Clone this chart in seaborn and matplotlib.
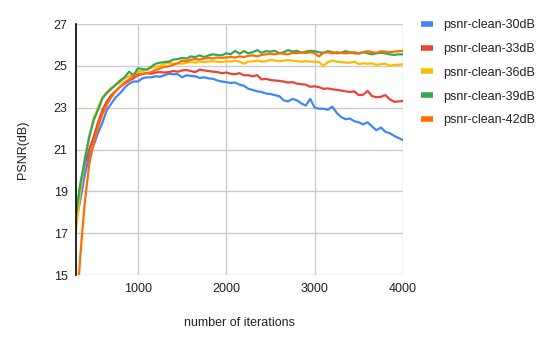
import numpy as np
import pandas as pd
import matplotlib
matplotlib.use("Agg")
import matplotlib.pyplot as plt
import seaborn as sns

sns.set_theme(style="white")
plt.rcParams["font.family"] = ["Liberation Sans", "DejaVu Sans"]

# x axis: iterations, every 50 steps
iterations = np.arange(300, 4001, 50)

psnr_30 = [17.6, 18.6, 19.8, 20.7, 21.2, 21.8, 22.3, 22.9, 23.2, 23.5,
           23.7, 23.95, 24.15, 24.25, 24.25, 24.4, 24.45, 24.45, 24.5, 24.48,
           24.55, 24.62, 24.6, 24.6, 24.45, 24.55, 24.52, 24.5, 24.42, 24.45,
           24.4, 24.38, 24.3, 24.25, 24.22, 24.18, 24.2, 24.1, 24.05, 23.9,
           23.85, 23.78, 23.75, 23.68, 23.65, 23.6, 23.55, 23.35, 23.3, 23.42,
           23.35, 23.2, 23.1, 23.42, 23.0, 22.95, 22.95, 22.9, 23.05, 22.75,
           22.55, 22.45, 22.48, 22.35, 22.3, 22.2, 22.3, 22.1, 21.92, 22.05,
           21.85, 21.78, 21.65, 21.55, 21.45]

psnr_33 = [17.9, 19.3, 20.3, 21.0, 21.6, 22.3, 22.9, 23.3, 23.6, 23.8,
           24.0, 24.15, 24.3, 24.4, 24.55, 24.6, 24.65, 24.62, 24.68, 24.7,
           24.68, 24.7, 24.75, 24.72, 24.78, 24.8, 24.75, 24.7, 24.82, 24.78,
           24.75, 24.72, 24.7, 24.65, 24.68, 24.62, 24.6, 24.65, 24.55, 24.55,
           24.5, 24.55, 24.35, 24.38, 24.32, 24.3, 24.28, 24.25, 24.2, 24.22,
           24.15, 24.12, 24.1, 24.0, 24.02, 23.98, 23.9, 23.92, 23.88, 23.85,
           23.82, 23.78, 23.75, 23.78, 23.6, 23.62, 23.8, 23.55, 23.5, 23.52,
           23.6, 23.4, 23.28, 23.3, 23.32]

psnr_36 = [17.1, 19.0, 20.6, 21.6, 22.5, 23.0, 23.5, 23.75, 23.95, 24.1,
           24.2, 24.4, 24.5, 24.6, 24.72, 24.75, 24.8, 24.9, 24.95, 25.0,
           25.1, 25.15, 25.1, 25.12, 25.1, 25.15, 25.2, 25.15, 25.2, 25.18,
           25.2, 25.22, 25.2, 25.18, 25.22, 25.2, 25.25, 25.2, 25.1, 25.2,
           25.22, 25.25, 25.2, 25.22, 25.28, 25.25, 25.22, 25.25, 25.28, 25.25,
           25.22, 25.2, 25.22, 25.2, 25.2, 25.18, 25.0, 25.18, 25.25, 25.2,
           25.18, 25.15, 25.15, 25.2, 25.08, 25.12, 25.1, 25.12, 25.05, 25.08,
           25.1, 25.0, 25.05, 25.05, 25.08]

psnr_39 = [17.9, 19.4, 20.5, 21.6, 22.4, 22.9, 23.45, 23.7, 23.9, 24.1,
           24.3, 24.45, 24.72, 24.55, 24.88, 24.85, 24.82, 24.95, 25.1, 25.15,
           25.18, 25.2, 25.3, 25.32, 25.38, 25.35, 25.45, 25.42, 25.5, 25.42,
           25.5, 25.55, 25.52, 25.5, 25.6, 25.55, 25.72, 25.58, 25.7, 25.6,
           25.65, 25.75, 25.62, 25.7, 25.68, 25.72, 25.6, 25.65, 25.75, 25.68,
           25.72, 25.62, 25.68, 25.72, 25.7, 25.65, 25.62, 25.7, 25.65, 25.6,
           25.62, 25.7, 25.65, 25.6, 25.58, 25.65, 25.6, 25.55, 25.6, 25.62,
           25.6, 25.55, 25.52, 25.55, 25.55]

psnr_42 = [12.8, 16.0, 18.5, 20.3, 21.3, 22.1, 22.7, 23.15, 23.5, 23.8,
           24.0, 24.2, 24.35, 24.5, 24.6, 24.62, 24.65, 24.7, 24.8, 24.88,
           24.95, 24.98, 25.05, 25.12, 25.25, 25.22, 25.3, 25.32, 25.3, 25.35,
           25.38, 25.35, 25.4, 25.38, 25.4, 25.42, 25.4, 25.45, 25.42, 25.48,
           25.5, 25.45, 25.52, 25.55, 25.58, 25.55, 25.6, 25.58, 25.55, 25.62,
           25.6, 25.65, 25.62, 25.65, 25.6, 25.45, 25.62, 25.65, 25.6, 25.65,
           25.62, 25.6, 25.62, 25.65, 25.6, 25.65, 25.7, 25.65, 25.62, 25.7,
           25.68, 25.65, 25.68, 25.7, 25.72]

series_names = ["psnr-clean-30dB", "psnr-clean-33dB", "psnr-clean-36dB",
                "psnr-clean-39dB", "psnr-clean-42dB"]
series_values = [psnr_30, psnr_33, psnr_36, psnr_39, psnr_42]
colors = ["#4285F4", "#EA4335", "#FBBC04", "#34A853", "#FF6D01"]

df = pd.concat(
    [pd.DataFrame({"iter": iterations, "psnr": v, "series": n})
     for n, v in zip(series_names, series_values)],
    ignore_index=True)

fig = plt.figure(figsize=(5.52, 3.45), dpi=100)
ax = fig.add_axes([76 / 552, 1 - 275 / 345, 327 / 552, 251 / 345])

sns.lineplot(data=df, x="iter", y="psnr", hue="series", palette=colors,
             linewidth=1.6, ax=ax, legend=False)

ax.set_xlim(300, 4000)
ax.set_ylim(15, 27)
ax.set_xticks([1000, 2000, 3000, 4000])
ax.set_yticks([15, 17, 19, 21, 23, 25, 27])
ax.grid(True, color="#cccccc", linewidth=1)
ax.set_axisbelow(True)
for s in ["top", "right", "bottom"]:
    ax.spines[s].set_visible(False)
ax.spines["left"].set_color("black")
ax.spines["left"].set_linewidth(1.2)
ax.spines["left"].set_zorder(5)
ax.tick_params(length=0, labelsize=9, labelcolor="#222222", pad=6)

ax.set_xlabel("number of iterations", fontsize=9, color="#222222")
ax.set_ylabel("PSNR(dB)", fontsize=9, color="#222222")
ax.xaxis.set_label_coords(0.5, -0.168)
ax.yaxis.set_label_coords(-0.144, 0.5)

handles = [plt.Line2D([], [], color=c, linewidth=4, solid_capstyle="butt")
           for c in colors]
fig.legend(handles, series_names, loc="upper left",
           bbox_to_anchor=(421 / 552, 1 - 19 / 345), frameon=False,
           fontsize=9, handlelength=1.0, handletextpad=0.8,
           labelspacing=0.95, borderpad=0, borderaxespad=0,
           labelcolor="#222222")

fig.savefig("out.png", dpi=100)
